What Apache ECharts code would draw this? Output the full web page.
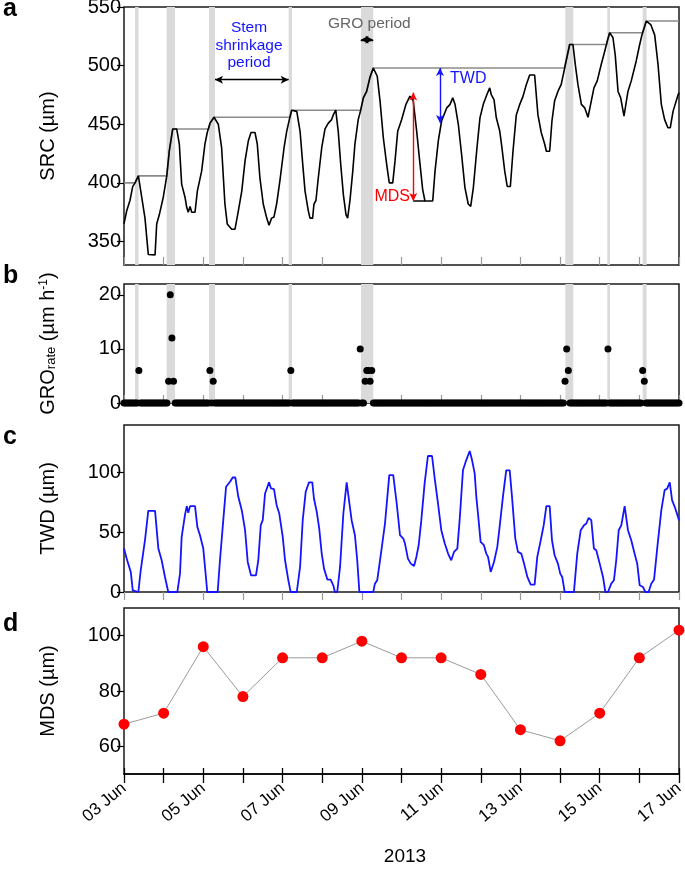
<!DOCTYPE html>
<html><head><meta charset="utf-8">
<script src="https://cdn.jsdelivr.net/npm/echarts@6/dist/echarts.min.js"></script>
<style>html,body{margin:0;padding:0;background:#fff}#c{width:685px;height:874px}</style>
</head><body><div id="c"></div>
<script>
// ---- data (x = hours since 03 Jun 2013 00:00) ----
const dayTicks = [0,24,48,72,96,120,144,168,192,216,240,264,288,312,336];
const labelHours = [0,48,96,144,192,240,288,336];
const dateLabels = ['03 Jun','05 Jun','07 Jun','09 Jun','11 Jun','13 Jun','15 Jun','17 Jun'];

const srcTicks = [350,400,450,500,550];
const groTicks = [0,10,20];
const twdTicks = [0,50,100];
const mdsTicks = [60,80,100];

const srcHours = [0,1.6,3.6,5.3,6.7,8.7,10.7,12.7,14.7,15.3,18.8,19.8,21.4,23.8,25.9,27.4,29.5,31.9,33.5,34.9,36.9,38,38.9,40,41,43,44.4,47,49,50.4,52.1,54.5,57.1,59.1,61.1,62.5,65.2,67.2,69.2,71.3,73.3,75.3,76.9,79.3,80.7,82.3,84.3,86.4,87.8,89.4,90.8,92.4,94.4,96.9,98.5,100.1,101.5,104.6,106.6,108.2,109.6,111.6,112.6,114.2,115,116.2,117.6,119.7,121.7,123.7,125.7,126.7,128.2,129.7,131.2,132.8,134.4,135.4,136.8,138.5,139.8,141.8,143.3,144.9,146.9,148.9,150.9,153.3,155,157,159,160.6,162.7,164.1,165.7,168.1,170.7,173.1,175.1,177.2,179.2,180.8,182.2,186.9,188.3,190.3,192.3,195.4,197.4,199,200.4,202.4,204.4,206.4,208.4,209.9,211.5,213.5,215.5,217.5,219.6,221.4,222.4,224,225.4,227.5,228.8,230.5,232,233.9,235.5,237.5,239.6,241.6,243.6,245.6,248.6,250.6,252.6,254.7,255.7,257.7,259.1,260.7,262.7,264.7,266.8,269.8,271.8,273.2,274.8,276.9,278.9,280.9,282.5,284.5,286.5,288.9,291,292.6,294,296,297.4,299.1,300.7,302.7,303.5,305.1,307.1,310.1,312.2,313.6,316.2,318.9,321.3,323.3,325.3,327.3,329.3,330.7,332.4,335.4,336];
const srcValues = [365,376,385,397,400,406,388,370,339,338.6,338.6,365,373,388,406,427,446,446,433,399,388,379,375,380,375,375,393,410,433,443,451,456,450,430,382,365,360.5,360.5,376,393,419,436,443,443,433,404,382,370,364,370,371,382,402,430,444,454,462,461,444,416,393,376,370,370,382,385,404,430,446,451,454,458,462,444,416,390,373,370,385,410,433,454,462,472.5,478,490,498,491,470,438.5,416,400,400,419,444,454,467,474,470,444,416,394.5,384.6,384.6,410,436,453,464,467,472.5,467,450,424,396,382,380,396,427,455.5,467,475,481,475,471,455.5,444,430,410,397,397,427,458,467,474,484,492,492,458,443,433,427,427,453,470,478,484,498,518,518,501,484,467,464,456,467,481,487,501,512,521,528,524,509,478,472.5,457,457,478,487,504,518,526.4,538,535,526,501,467,454,447,447,461,475,477];

const envHours = [0,6.7,8.7,25.9,27.4,29.5,51.3,52.1,54.5,100.4,101.5,143.3,144.9,146.9,148.9,150.9,266.6,269.8,292.3,292.6,294,314,316.2,336];
const envValues = [400,400,406,406,427,446,446,451,456,456,462,462,472.5,478,490,498,498,518,518,521,528,528,538,538];

const bandStart = [6.7,25.8,51.5,99.7,143.5,267.2,292.6,314];
const bandEnd   = [8.8,30.9,55.1,101.7,150.9,272,294.2,316.4];

// GRO rate, hourly from 03 Jun 00:00 (one row per day)
const groValues = [
 0,0,0,0,0,0,0,0,0,6,0,0,0,0,0,0,0,0,0,0,0,0,0,0,
 0,0,0,4,20,12,4,0,0,0,0,0,0,0,0,0,0,0,0,0,0,0,0,0,
 0,0,0,0,6,0,4,0,0,0,0,0,0,0,0,0,0,0,0,0,0,0,0,0,
 0,0,0,0,0,0,0,0,0,0,0,0,0,0,0,0,0,0,0,0,0,0,0,0,
 0,0,0,0,0,6,0,0,0,0,0,0,0,0,0,0,0,0,0,0,0,0,0,0,
 0,0,0,0,0,0,0,0,0,0,0,0,0,0,0,0,0,0,0,0,0,0,0,10,
 0,0,4,6,6,4,6,0,0,0,0,0,0,0,0,0,0,0,0,0,0,0,0,0,
 0,0,0,0,0,0,0,0,0,0,0,0,0,0,0,0,0,0,0,0,0,0,0,0,
 0,0,0,0,0,0,0,0,0,0,0,0,0,0,0,0,0,0,0,0,0,0,0,0,
 0,0,0,0,0,0,0,0,0,0,0,0,0,0,0,0,0,0,0,0,0,0,0,0,
 0,0,0,0,0,0,0,0,0,0,0,0,0,0,0,0,0,0,0,0,0,0,0,0,
 0,0,0,4,10,6,0,0,0,0,0,0,0,0,0,0,0,0,0,0,0,0,0,0,
 0,0,0,0,0,10,0,0,0,0,0,0,0,0,0,0,0,0,0,0,0,0,0,0,
 0,0,6,4,0,0,0,0,0,0,0,0,0,0,0,0,0,0,0,0,0,0,0,0,
 0];

const twdHours = [0,1.6,4.1,5.3,6.1,8.7,10.1,12.7,14.7,18.8,20.8,22.8,24.8,26.8,32.3,33.9,34.9,36.9,38,38.9,40,43,44.4,46,48,49.6,50.4,56.7,58.1,60.1,61.8,64.2,65.8,67.4,69.2,71.3,73.3,74.9,76.9,79.9,81.3,82.8,84,85.4,87.8,89,90.8,92.4,94,96.1,97.5,99.5,100.9,104.6,106.6,108.2,110,112,114,115,116.7,118.2,119.7,121.1,123.1,125.1,126.7,127.7,129.1,130.8,132.8,134.8,135.8,137.8,139.8,141.2,142.5,150.9,151.9,153.3,155,158,160.6,163,165.1,167.1,169.1,170.1,171.9,173.6,175.6,177,178.4,180,182,184,186.5,188.1,190.1,192.1,194.2,196.2,198.1,199.8,201.8,203.2,205.2,207.2,209.3,210.7,212.3,213.3,214.3,215.9,217.9,219.3,220.4,222,224,226,227.4,229.4,231.4,233.5,234.9,236.9,238.5,240.5,242.2,244.2,246.2,248.6,250.2,252.3,254.1,255.7,257.7,259.1,260.7,262.7,264.1,265.3,266.8,272.4,274.4,276.5,278.5,279.9,281.3,282.9,284.5,285.9,288,290,291.4,293,295,296.6,298,299.5,301.1,303.1,304.3,305.1,307.1,309.1,310.7,312.2,314.2,315.6,317.6,319.2,320.9,322.9,325.3,327.3,328.9,330.4,331.8,333.4,335.4,336];
const twdValues = [36.4,28,16.8,1.4,0,0,18,43.4,68,68,36.4,26.6,12.6,0,0,15.4,46,64.4,72,66.4,72,72,54.6,47.6,36.4,12.6,0,0,26.6,60.2,88.2,92.4,96,96,79.8,68.6,51.8,25.2,14,14,26.6,56,60.2,82.6,91.9,86.8,86.3,72.8,65.8,46.2,26.6,9.8,0,0,21,60.2,84,91.9,91.9,78.4,67.2,53.2,32.2,19.6,10.4,10.4,5.6,0,0,21,65.8,91.9,91.9,60.2,47.6,26.6,0,0,7,9.8,26.6,57.4,98,98,74.2,47.6,44.8,40.6,28,23.8,21.8,29.4,39.2,60.2,91,114,114,95.2,74.2,51.8,40.6,32.2,26.6,33.6,36.4,60.2,102,110.6,118.2,110.6,99.4,79.8,65.8,42,39.2,32.2,29.4,16.8,25.2,37.8,54.6,79.8,102,102,79.8,44.8,33.6,32.2,23.8,12.6,6.2,6.2,29.4,43.4,56,72,72,43.4,30.8,23.8,15.4,12.6,0,0,32.2,51.8,56,57.4,62.2,60.2,36.4,35,23.8,12.6,0,0,7,9.8,26.6,51.8,56,72,72,51.8,43.4,32.2,23.8,5.6,4.2,0,0,7,10.4,37.8,68.6,85.4,86.8,91.9,77,71.4,63,60];

const mdsHours = [0,24,48,72,96,120,144,168,192,216,240,264,288,312,336];
const mdsValues = [68,72,96,78,92,92,98,92,92,86,66,62,72,92,102];

// annotation anchors (data units: [hour, value])
const stemArrow = [[55.1,488],[99.7,488]];
const groArrow = [[143.3,522],[150.9,522]];
const twdArrow = [[191.3,498],[191.3,451]];
const mdsArrow = [[175.1,477],[175.1,384.6]];
const mdsBase = [[175.1,384.6],[182.2,384.6]];

// ---- chart ----
const FONT = '"Liberation Sans", Arial, sans-serif';
const pairs = (xs, ys) => xs.map((x, i) => [x, ys[i]]);
const groPairs = groValues.map((v, i) => [i, v]);
const bands = bandStart.map((s, i) => [{xAxis: s}, {xAxis: bandEnd[i]}]);

const gridBase = {left: 124, width: 555, show: true, borderColor: '#1a1a1a', borderWidth: 1.5, backgroundColor: 'transparent', containLabel: false, outerBoundsMode: 'none'};

function xAx(gridIndex, position, extra) {
  return Object.assign({
    type: 'value', min: 0, max: 336, gridIndex, position,
    axisLine: {show: false}, splitLine: {show: false},
    axisLabel: {show: false},
    axisTick: {show: true, inside: true, length: 8, customValues: dayTicks, lineStyle: {color: '#999', width: 1.2}}
  }, extra || {});
}
function yAx(gridIndex, min, max, ticks, name, nameGap) {
  return {
    type: 'value', gridIndex, min, max,
    axisLine: {show: false}, splitLine: {show: false},
    axisTick: {show: true, length: 7, customValues: ticks, lineStyle: {color: '#000', width: 1.2}},
    axisLabel: {customValues: ticks, fontSize: 20, color: '#000', margin: 3, fontFamily: FONT},
    name, nameLocation: 'middle', nameGap,
    nameTextStyle: {fontSize: 20, color: '#000', fontFamily: FONT,
      rich: {
        sub: {fontSize: 13, fontFamily: FONT, color: '#000', verticalAlign: 'bottom', lineHeight: 13, padding: [10, 0, 0, 0]},
        sup: {fontSize: 12, fontFamily: FONT, color: '#000', verticalAlign: 'top', lineHeight: 12, padding: [0, 0, 10, 0]}
      }}
  };
}

const arrowLine = (pts, color) => [
  {coord: pts[0], lineStyle: {color, width: 1.4, type: 'solid'}, itemStyle: {color}},
  {coord: pts[1], itemStyle: {color}}
];

const option = {
  animation: false,
  textStyle: {fontFamily: FONT},
  grid: [
    Object.assign({}, gridBase, {top: 7, height: 258}),
    Object.assign({}, gridBase, {top: 284, height: 119}),
    Object.assign({}, gridBase, {top: 425, height: 167}),
    Object.assign({}, gridBase, {top: 608, height: 166})
  ],
  xAxis: [
    xAx(0, 'bottom'),
    xAx(1, 'bottom'),
    xAx(2, 'top'),
    xAx(3, 'bottom', {
      axisLine: {show: true, lineStyle: {color: '#000', width: 1.5}},
      axisTick: {show: true, inside: false, length: 9, customValues: dayTicks, lineStyle: {color: '#000', width: 1.3}},
      axisLabel: {show: true, customValues: labelHours, rotate: 40, fontSize: 17, color: '#000', margin: 12, fontFamily: FONT,
        formatter: v => { const i = labelHours.indexOf(v); return i >= 0 ? dateLabels[i] : ''; }}
    }),
    xAx(3, 'bottom', {axisTick: {show: true, inside: true, length: 6, customValues: dayTicks, lineStyle: {color: '#000', width: 1.3}}})
  ],
  yAxis: [
    yAx(0, 330, 550, srcTicks, 'SRC (µm)', 66),
    yAx(1, 0, 22, groTicks, 'GRO{sub|rate} (µm h{sup|-1})', 66),
    yAx(2, 0, 140, twdTicks, 'TWD (µm)', 66),
    yAx(3, 50, 110, mdsTicks, 'MDS (µm)', 66)
  ],
  series: [
    {type: 'line', name: 'envelope', xAxisIndex: 0, yAxisIndex: 0, z: 2, symbol: 'none',
      data: pairs(envHours, envValues), lineStyle: {color: '#8a8a8a', width: 1.6},
      markArea: {silent: true, itemStyle: {color: '#dadada'}, data: bands}},
    {type: 'line', name: 'SRC', xAxisIndex: 0, yAxisIndex: 0, z: 3, symbol: 'none',
      data: pairs(srcHours, srcValues), lineStyle: {color: '#000', width: 1.6},
      markLine: {silent: true, symbol: ['arrow', 'arrow'], symbolSize: [6, 8], label: {show: false},
        emphasis: {disabled: true},
        data: [
          arrowLine(stemArrow, '#000'),
          arrowLine(groArrow, '#000'),
          arrowLine(twdArrow, '#1414ff'),
          arrowLine(mdsArrow, '#ff0000')
        ]}},
    {type: 'line', name: 'MDSbase', xAxisIndex: 0, yAxisIndex: 0, z: 3, symbol: 'none',
      data: mdsBase, lineStyle: {color: '#000', width: 1.6}},
    {type: 'scatter', name: 'GRO', xAxisIndex: 1, yAxisIndex: 1, z: 3, symbol: 'circle', symbolSize: 7,
      data: groPairs, itemStyle: {color: '#000', opacity: 1}, clip: false,
      markArea: {silent: true, itemStyle: {color: '#dadada'}, data: bands}},
    {type: 'line', name: 'TWD', xAxisIndex: 2, yAxisIndex: 2, z: 3, symbol: 'none',
      data: pairs(twdHours, twdValues), lineStyle: {color: '#1414ff', width: 1.8}},
    {type: 'line', name: 'MDS', xAxisIndex: 3, yAxisIndex: 3, z: 3, symbol: 'circle', symbolSize: 11,
      data: pairs(mdsHours, mdsValues), itemStyle: {color: '#ff0000', borderWidth: 0, opacity: 1},
      lineStyle: {color: '#9a9a9a', width: 1}, clip: false}
  ],
  graphic: [
    {type: 'text', z: 100, left: 3, top: -3, style: {text: 'a', font: 'bold 25px ' + FONT, fill: '#000'}},
    {type: 'text', z: 100, left: 3, top: 264, style: {text: 'b', font: 'bold 25px ' + FONT, fill: '#000'}},
    {type: 'text', z: 100, left: 3, top: 425, style: {text: 'c', font: 'bold 25px ' + FONT, fill: '#000'}},
    {type: 'text', z: 100, left: 3, top: 612, style: {text: 'd', font: 'bold 25px ' + FONT, fill: '#000'}},
    {type: 'text', z: 100, x: 249, y: 19, style: {text: 'Stem\nshrinkage\nperiod', font: '15.5px ' + FONT, fill: '#1414ff', align: 'center', verticalAlign: 'top', lineHeight: 17.5}},
    {type: 'text', z: 100, x: 328, y: 24, style: {text: 'GRO period', font: '15.5px ' + FONT, fill: '#666', align: 'left', verticalAlign: 'middle'}},
    {type: 'text', z: 100, x: 450, y: 79, style: {text: 'TWD', font: '16px ' + FONT, fill: '#1414ff', align: 'left', verticalAlign: 'middle'}},
    {type: 'text', z: 100, x: 410, y: 197, style: {text: 'MDS', font: '16px ' + FONT, fill: '#ff0000', align: 'right', verticalAlign: 'middle'}},
    {type: 'text', z: 100, x: 405, y: 857, style: {text: '2013', font: '19px ' + FONT, fill: '#000', align: 'center', verticalAlign: 'middle'}}
  ]
};

const chart = echarts.init(document.getElementById('c'), null, {renderer: 'canvas'});
chart.setOption(option);
</script></body></html>
